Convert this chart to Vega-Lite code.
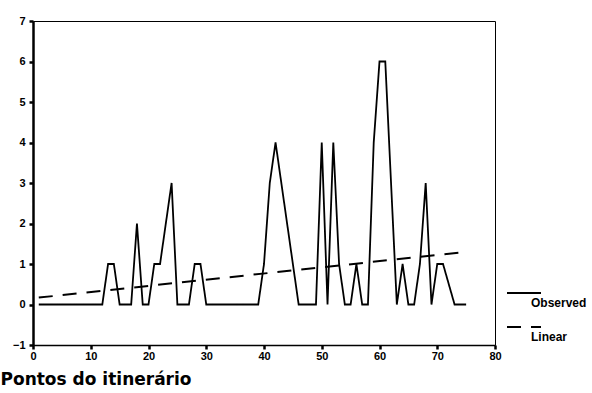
{
  "$schema": "https://vega.github.io/schema/vega-lite/v6.json",
  "width": 462,
  "height": 324,
  "autosize": "none",
  "padding": {"left": 33, "top": 21, "right": 97, "bottom": 48},
  "background": "white",
  "config": {"view": {"stroke": "black", "strokeWidth": 1}, "font": "Liberation Sans"},
  "datasets": {
    "observed": [
      {"x": 1, "y": 0, "series": "Observed"}, {"x": 2, "y": 0, "series": "Observed"}, {"x": 3, "y": 0, "series": "Observed"},
      {"x": 4, "y": 0, "series": "Observed"}, {"x": 5, "y": 0, "series": "Observed"}, {"x": 6, "y": 0, "series": "Observed"},
      {"x": 7, "y": 0, "series": "Observed"}, {"x": 8, "y": 0, "series": "Observed"}, {"x": 9, "y": 0, "series": "Observed"},
      {"x": 10, "y": 0, "series": "Observed"}, {"x": 11, "y": 0, "series": "Observed"}, {"x": 12, "y": 0, "series": "Observed"},
      {"x": 13, "y": 1, "series": "Observed"}, {"x": 14, "y": 1, "series": "Observed"}, {"x": 15, "y": 0, "series": "Observed"},
      {"x": 16, "y": 0, "series": "Observed"}, {"x": 17, "y": 0, "series": "Observed"}, {"x": 18, "y": 2, "series": "Observed"},
      {"x": 19, "y": 0, "series": "Observed"}, {"x": 20, "y": 0, "series": "Observed"}, {"x": 21, "y": 1, "series": "Observed"},
      {"x": 22, "y": 1, "series": "Observed"}, {"x": 23, "y": 2, "series": "Observed"}, {"x": 24, "y": 3, "series": "Observed"},
      {"x": 25, "y": 0, "series": "Observed"}, {"x": 26, "y": 0, "series": "Observed"}, {"x": 27, "y": 0, "series": "Observed"},
      {"x": 28, "y": 1, "series": "Observed"}, {"x": 29, "y": 1, "series": "Observed"}, {"x": 30, "y": 0, "series": "Observed"},
      {"x": 31, "y": 0, "series": "Observed"}, {"x": 32, "y": 0, "series": "Observed"}, {"x": 33, "y": 0, "series": "Observed"},
      {"x": 34, "y": 0, "series": "Observed"}, {"x": 35, "y": 0, "series": "Observed"}, {"x": 36, "y": 0, "series": "Observed"},
      {"x": 37, "y": 0, "series": "Observed"}, {"x": 38, "y": 0, "series": "Observed"}, {"x": 39, "y": 0, "series": "Observed"},
      {"x": 40, "y": 1, "series": "Observed"}, {"x": 41, "y": 3, "series": "Observed"}, {"x": 42, "y": 4, "series": "Observed"},
      {"x": 43, "y": 3, "series": "Observed"}, {"x": 44, "y": 2, "series": "Observed"}, {"x": 45, "y": 1, "series": "Observed"},
      {"x": 46, "y": 0, "series": "Observed"}, {"x": 47, "y": 0, "series": "Observed"}, {"x": 48, "y": 0, "series": "Observed"},
      {"x": 49, "y": 0, "series": "Observed"}, {"x": 50, "y": 4, "series": "Observed"}, {"x": 51, "y": 0, "series": "Observed"},
      {"x": 52, "y": 4, "series": "Observed"}, {"x": 53, "y": 1, "series": "Observed"}, {"x": 54, "y": 0, "series": "Observed"},
      {"x": 55, "y": 0, "series": "Observed"}, {"x": 56, "y": 1, "series": "Observed"}, {"x": 57, "y": 0, "series": "Observed"},
      {"x": 58, "y": 0, "series": "Observed"}, {"x": 59, "y": 4, "series": "Observed"}, {"x": 60, "y": 6, "series": "Observed"},
      {"x": 61, "y": 6, "series": "Observed"}, {"x": 62, "y": 3, "series": "Observed"}, {"x": 63, "y": 0, "series": "Observed"},
      {"x": 64, "y": 1, "series": "Observed"}, {"x": 65, "y": 0, "series": "Observed"}, {"x": 66, "y": 0, "series": "Observed"},
      {"x": 67, "y": 1, "series": "Observed"}, {"x": 68, "y": 3, "series": "Observed"}, {"x": 69, "y": 0, "series": "Observed"},
      {"x": 70, "y": 1, "series": "Observed"}, {"x": 71, "y": 1, "series": "Observed"}, {"x": 72, "y": 0.5, "series": "Observed"},
      {"x": 73, "y": 0, "series": "Observed"}, {"x": 74, "y": 0, "series": "Observed"}, {"x": 75, "y": 0, "series": "Observed"}
    ],
    "linear": [
      {"x": 1, "y": 0.17, "series": "Linear"},
      {"x": 75, "y": 1.3, "series": "Linear"}
    ]
  },
  "encoding": {
    "x": {
      "field": "x", "type": "quantitative",
      "scale": {"domain": [0, 80], "nice": false},
      "axis": {
        "title": "Pontos do itinerário",
        "values": [0, 10, 20, 30, 40, 50, 60, 70, 80],
        "grid": false,
        "tickSize": 4, "tickWidth": 2.5, "tickColor": "black",
        "domainColor": "black", "domainWidth": 1.5,
        "labelFont": "Liberation Sans", "labelFontWeight": "bold", "labelFontSize": 11, "labelColor": "black",
        "labelPadding": 1, "labelFlush": false,
        "titleAnchor": "start", "titleAlign": "left", "titleX": -33, "titleY": 39, "titleBaseline": "alphabetic",
        "titleFont": "DejaVu Sans", "titleFontSize": 17, "titleFontWeight": "bold", "titleColor": "black"
      }
    },
    "y": {
      "field": "y", "type": "quantitative",
      "scale": {"domain": [-1, 7], "nice": false},
      "axis": {
        "title": null,
        "values": [-1, 0, 1, 2, 3, 4, 5, 6, 7],
        "grid": false,
        "tickSize": 4, "tickWidth": 2.5, "tickColor": "black",
        "domainColor": "black", "domainWidth": 2.5,
        "labelFont": "Liberation Sans", "labelFontWeight": "bold", "labelFontSize": 11, "labelColor": "black",
        "labelPadding": 4
      }
    },
    "strokeDash": {
      "field": "series", "type": "nominal",
      "scale": {"domain": ["Observed", "Linear"], "range": [[1, 0], [14, 10]]},
      "legend": {
        "orient": "none", "legendX": 473, "legendY": 254,
        "title": null,
        "symbolType": "stroke", "symbolSize": 1156, "symbolStrokeWidth": 2, "symbolStrokeColor": "black",
        "labelExpr": "['', datum.label]", "labelBaseline": "alphabetic", "labelOffset": -11,
        "labelFont": "Liberation Sans", "labelFontSize": 12, "labelFontWeight": "bold", "labelColor": "black",
        "rowPadding": -7
      }
    }
  },
  "layer": [
    {"data": {"name": "observed"}, "mark": {"type": "line", "color": "black", "strokeWidth": 1.8}},
    {"data": {"name": "linear"}, "mark": {"type": "line", "color": "black", "strokeWidth": 2}}
  ]
}
